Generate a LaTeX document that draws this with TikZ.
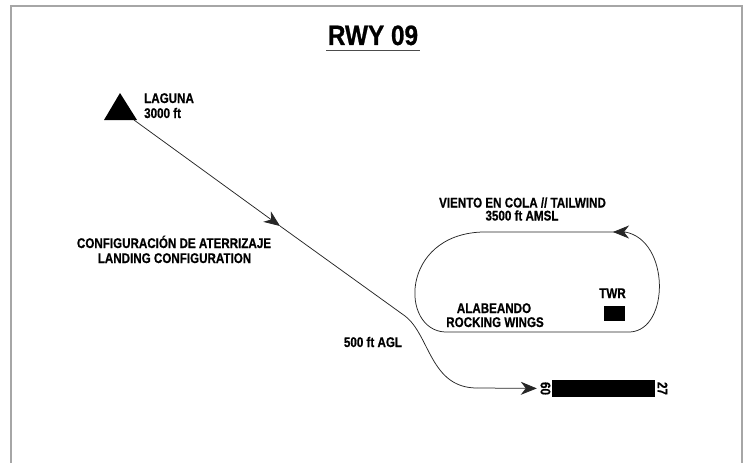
\documentclass[tikz,border=0pt]{standalone}
\usepackage{fontspec}
\setmainfont{Liberation Sans}
\newfontfamily\condf{Liberation Sans}[FakeStretch=0.83,FakeBold=0.6]
\newfontfamily\titlef{Liberation Sans}[FakeStretch=0.87,FakeBold=0.8]
\usetikzlibrary{arrows.meta}
\begin{document}
\begin{tikzpicture}[x=1pt,y=-1pt,
  lbl/.style={font=\condf\bfseries\fontsize{14}{15}\selectfont, inner sep=0pt, anchor=base},
  lblw/.style={lbl, anchor=base west},
  route/.style={draw=black!85, line width=0.75pt},
  tip/.style={-{Stealth[length=16pt,width=13pt,inset=5pt]}},
  solid box/.style={fill=black, inner sep=0pt}]
\useasboundingbox (0,0) rectangle (750,463);
% frame
\draw[black!35, line width=1.3pt] (11,464) -- (11,6) -- (742,6) -- (742,464);
% title
\node[font=\titlef\bfseries\fontsize{28}{30}\selectfont, inner sep=0pt, anchor=base] (title) at (373,45) {RWY 09};
\draw[black!70, line width=1.2pt] (326,50.5) -- (420,50.5);
% Laguna
\fill (104,120) -- (137,120) -- (120,93) -- cycle;
\coordinate (laguna) at (134,120);
\node[lblw] (lag1) at (144,103) {LAGUNA};
\node[lblw] (lag2) at (144,118) {3000 ft};
% runway and tower
\node[solid box, minimum width=103pt, minimum height=17pt] (rwy) at (603.5,388.5) {};
\node[lbl, anchor=center, rotate=90] (n09) at (545.5,388.5) {09};
\node[lbl, anchor=center, rotate=-90] (n27) at (662.5,388.5) {27};
\node[solid box, minimum width=21pt, minimum height=15pt] (twr) at (614.5,313.5) {};
\node[lbl] (twrl) at (612.5,298) {TWR};
% labels
\node[lbl] (cfg1) at (174,248) {CONFIGURACIÓN DE ATERRIZAJE};
\node[lbl] (cfg2) at (174.5,263) {LANDING CONFIGURATION};
\node[lbl] (tw1) at (522.5,207.5) {VIENTO EN COLA // TAILWIND};
\node[lbl] (tw2) at (522,220.5) {3500 ft AMSL};
\node[lbl] (rk1) at (494,313) {ALABEANDO};
\node[lbl] (rk2) at (495,327) {ROCKING WINGS};
\node[lbl] (agl) at (373,347) {500 ft AGL};
% approach path
\coordinate (a1) at (280,226);
\coordinate (a2) at (405,316);
\coordinate (a3) at (477,388);
\draw[route, tip] (laguna) -- (a1);
\draw[route] (a1) -- (a2) .. controls (430,335) and (430,388) .. (a3);
\draw[route, tip, shorten >=15pt] (a3) -- (rwy.west);
% circuit
\coordinate (p1) at (482,232);
\coordinate (p2) at (445,332);
\coordinate (p3) at (630,332);
\coordinate (p4) at (625,232);
\coordinate (p5) at (613,232);
\draw[route] (p1) .. controls (400,235) and (400,330) .. (p2) -- (p3)
  .. controls (670,330) and (670,240) .. (p4) -- (p1);
\draw[route, tip] (p4) -- (p5);
\end{tikzpicture}
\end{document}
